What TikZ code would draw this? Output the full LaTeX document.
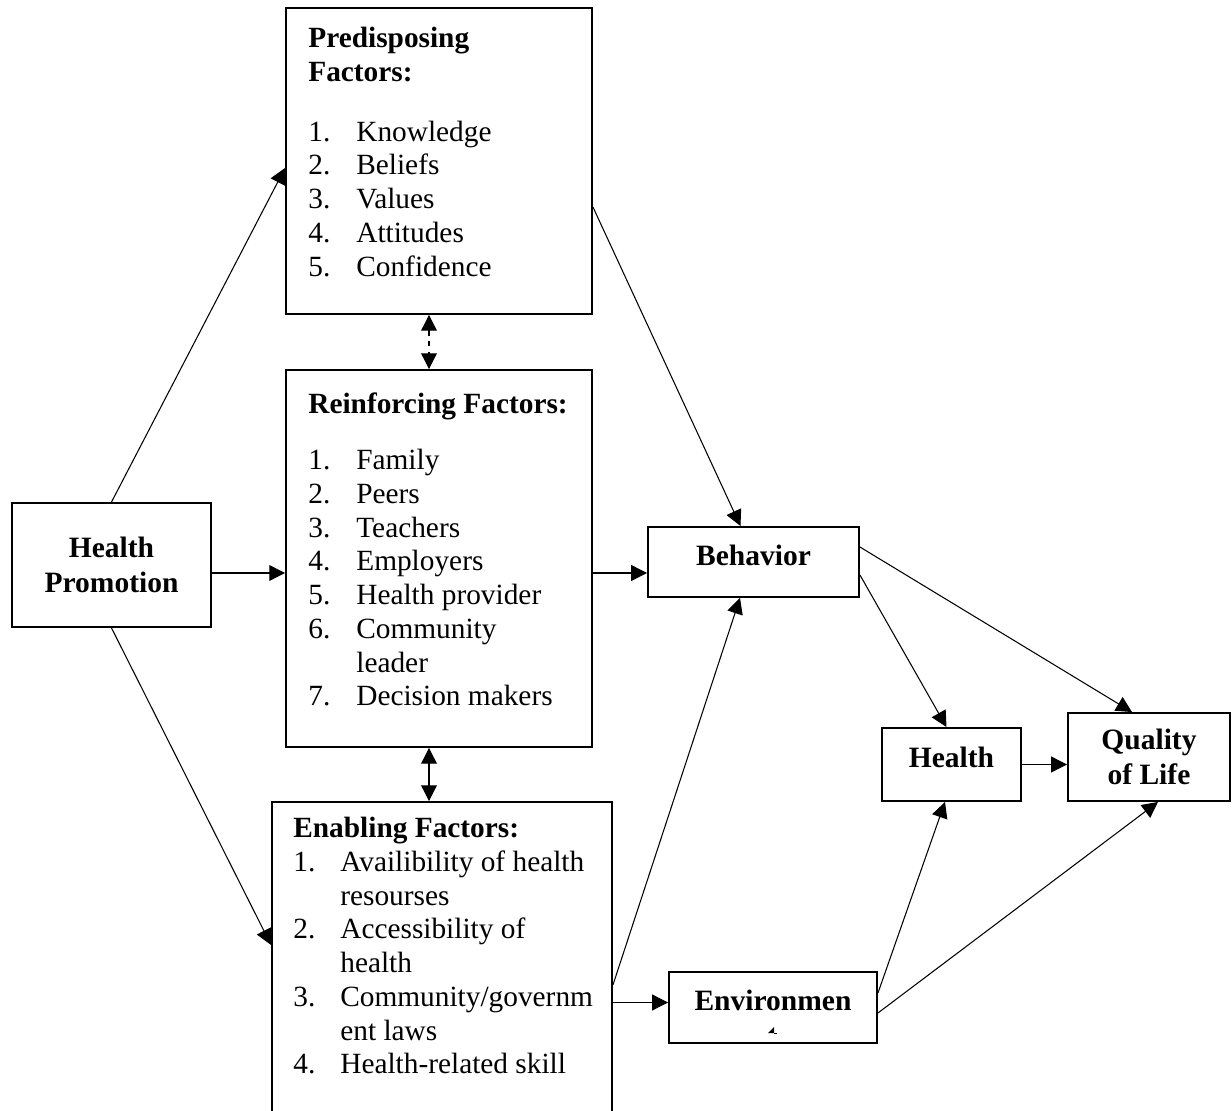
\documentclass[tikz,border=0pt]{standalone}
\usepackage{fontspec}
\setmainfont{Liberation Serif}
\usetikzlibrary{arrows.meta,positioning}
\newcommand{\itm}[3][0.96cm]{\makebox[#1][l]{#2}#3}

\begin{document}
\begin{tikzpicture}[x=0.02cm,y=-0.02cm,>={Triangle[length=9pt,width=9pt]},
  box/.style={draw,line width=1.1pt,inner sep=0pt},
  title/.style={font=\fontsize{16.8}{19.6}\selectfont\bfseries,align=center},
  list/.style={font=\fontsize{16.7}{19.2}\selectfont,align=left,inner sep=0pt,anchor=north west},
  link/.style={->,line width=0.6pt}]
  \useasboundingbox (0,0) rectangle (1232,1111);
  \clip (0,0) rectangle (1232,1111);

  % factor boxes
  \node[box,minimum width=6.12cm,minimum height=6.12cm] (pre) at (439,161) {};
  \node[box,minimum width=6.12cm,minimum height=7.54cm] (rei) at (439,558.5) {};
  \node[box,minimum width=6.8cm,minimum height=6.76cm]  (ena) at (442,971) {};

  \node[list] (pretxt) at (308,27) {\textbf{Predisposing}\\\textbf{Factors:}\\[0.52cm]
    \itm{1.}{Knowledge}\\\itm{2.}{Beliefs}\\\itm{3.}{Values}\\\itm{4.}{Attitudes}\\\itm{5.}{Confidence}};
  \node[list] (reitxt) at (308,392) {\textbf{Reinforcing Factors:}\\[0.46cm]
    \itm{1.}{Family}\\\itm{2.}{Peers}\\\itm{3.}{Teachers}\\\itm{4.}{Employers}\\\itm{5.}{Health provider}\\
    \itm{6.}{Community}\\\hspace*{0.96cm}leader\\\itm{7.}{Decision makers}};
  \node[list] (enatxt) at (293,817) {\textbf{Enabling Factors:}\\
    \itm[0.94cm]{1.}{Availibility of health}\\\hspace*{0.94cm}resourses\\
    \itm[0.94cm]{2.}{Accessibility of}\\\hspace*{0.94cm}health\\
    \itm[0.94cm]{3.}{Community/governm}\\\hspace*{0.94cm}ent laws\\
    \itm[0.94cm]{4.}{Health-related skill}};

  % other boxes
  \node[box,title,minimum width=3.98cm,minimum height=2.48cm] (hp) at (111.5,565) {Health\\Promotion};
  \node[box,title,text depth=0.28cm,minimum width=4.22cm,minimum height=1.4cm] (beh) at (753.5,562) {Behavior};
  \node[box,title,text depth=0.28cm,minimum width=2.78cm,minimum height=1.46cm] (hea) at (951.5,764.5) {Health};
  \node[box,title,minimum width=3.24cm,minimum height=1.76cm] (qol) at (1149,757) {Quality\\of Life};
  \node[box,title,text depth=0.28cm,minimum width=4.16cm,minimum height=1.42cm] (env) at (773,1007.5) {Environmen};
  \fill (768,1033) -- (774,1027) -- (774,1033) -- cycle;
  \draw[line width=0.4pt] (774,1033) -- (777,1033);

  % connectors
  \coordinate (hpr) at ([yshift=-0.16cm]hp.east);
  \coordinate (behl) at ([yshift=-0.22cm]beh.west);
  \coordinate (reib) at ([xshift=-0.2cm]rei.south);
  \coordinate (envl) at ([yshift=0.1cm]env.west);
  \draw[link] (hp.north) -- ([yshift=-0.14cm]pre.west);
  \draw[link] (hpr) -- (hpr -| rei.west);
  \draw[link] (hp.south) -- ([yshift=0.52cm]ena.west);
  \draw[link] ([yshift=-0.92cm]pre.east) -- ([xshift=-0.26cm]beh.north);
  \draw[link] (behl -| rei.east) -- (behl);
  \draw[link,<->,dashed] ([xshift=-0.2cm]pre.south) -- ([xshift=-0.2cm]rei.north);
  \draw[link,<->] (reib) -- (reib |- ena.north);
  \draw[link] ([yshift=-0.28cm]ena.east) -- ([xshift=-0.27cm]beh.south);
  \draw[link] (envl -| ena.east) -- (envl);
  \draw[link] ([yshift=0.3cm]beh.east) -- ([xshift=-0.34cm]qol.north);
  \draw[link] ([yshift=-0.26cm]beh.east) -- ([xshift=-0.1cm]hea.north);
  \draw[link] (hea.east) -- (hea.east -| qol.west);
  \draw[link] ([yshift=0.29cm]env.east) -- ([xshift=-0.13cm]hea.south);
  \draw[link] ([yshift=-0.11cm]env.east) -- ([xshift=0.18cm]qol.south);
\end{tikzpicture}
\end{document}
